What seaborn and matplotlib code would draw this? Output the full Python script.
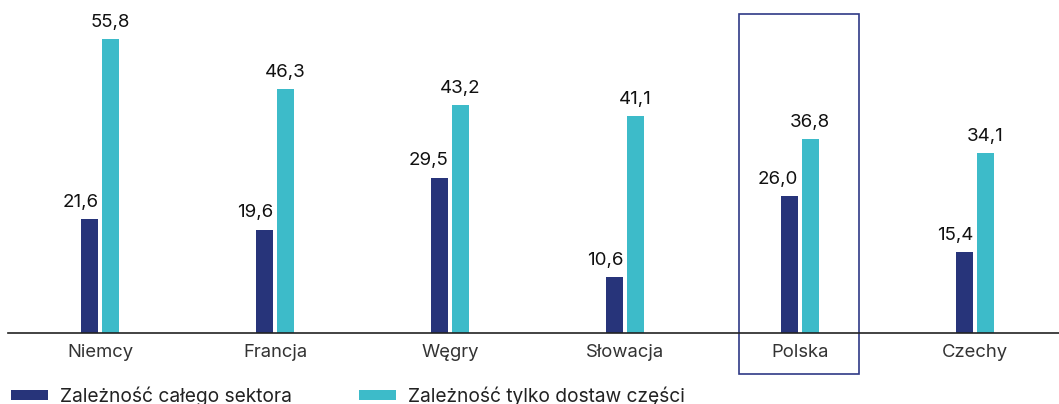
import matplotlib
matplotlib.use("Agg")
import matplotlib.pyplot as plt
import seaborn as sns
import pandas as pd
from matplotlib.patches import Rectangle, Patch

categories = ["Niemcy", "Francja", "Węgry", "Słowacja", "Polska", "Czechy"]
series_names = ["Zależność całego sektora", "Zależność tylko dostaw części"]
sector_values = [21.6, 19.6, 29.5, 10.6, 26.0, 15.4]
parts_values = [55.8, 46.3, 43.2, 41.1, 36.8, 34.1]
highlight = "Polska"

navy = "#27347a"
cyan = "#3dbbc9"

df = pd.DataFrame({
    "kraj": categories * 2,
    "seria": [series_names[0]] * 6 + [series_names[1]] * 6,
    "wartosc": sector_values + parts_values,
})

sns.set_theme(style="white")
plt.rcParams["font.family"] = ["Inter", "DejaVu Sans"]

W, H = 1059, 404
fig = plt.figure(figsize=(W / 100, H / 100), dpi=100)
ax = fig.add_axes([8 / W, 71 / H, 1 - 8 / W, 333 / H])

sns.barplot(data=df, x="kraj", y="wartosc", hue="seria", order=categories,
            hue_order=series_names, palette=[navy, cyan], width=0.235,
            gap=0.16, ax=ax, legend=False, saturation=1, linewidth=0)

def fmt(v):
    return f"{v:.1f}".replace(".", ",")

# navy labels: right-aligned to the bar's right edge
for bar, v in zip(ax.containers[0], ax.containers[0].datavalues):
    ax.annotate(fmt(v), (bar.get_x() + bar.get_width(), bar.get_height()),
                xytext=(0, 6), textcoords="offset points", ha="right", va="bottom",
                fontsize=13.5, color="#111111")
# cyan labels: centred
ax.bar_label(ax.containers[1], labels=[fmt(v) for v in ax.containers[1].datavalues],
             padding=6, fontsize=13.5, color="#111111")

ax.set_xlim(-0.526, 5.48)
ax.set_ylim(0, 63.2)
ax.set_xlabel("")
ax.set_ylabel("")
ax.set_yticks([])
for s in ["top", "right", "left"]:
    ax.spines[s].set_visible(False)
ax.spines["bottom"].set_color("#222222")
ax.spines["bottom"].set_linewidth(1.2)
ax.tick_params(axis="x", length=0, pad=8, labelsize=13.3, labelcolor="#333333")

hi = categories.index(highlight)
rect = Rectangle((hi - 0.349, -7.8), 0.686, 68.3, fill=False,
                 edgecolor="#2f3a86", linewidth=1.2, clip_on=False)
ax.add_patch(rect)

handles = [Patch(facecolor=navy, edgecolor="none"), Patch(facecolor=cyan, edgecolor="none")]
fig.legend(handles, series_names, loc="center left", bbox_to_anchor=(11 / W, 8 / H),
           ncol=2, frameon=False, fontsize=13.8, handlelength=1.95, handleheight=0.45,
           handletextpad=0.6, columnspacing=3.5, borderpad=0, borderaxespad=0,
           labelcolor="#222222")

fig.savefig("out.png", dpi=100)
